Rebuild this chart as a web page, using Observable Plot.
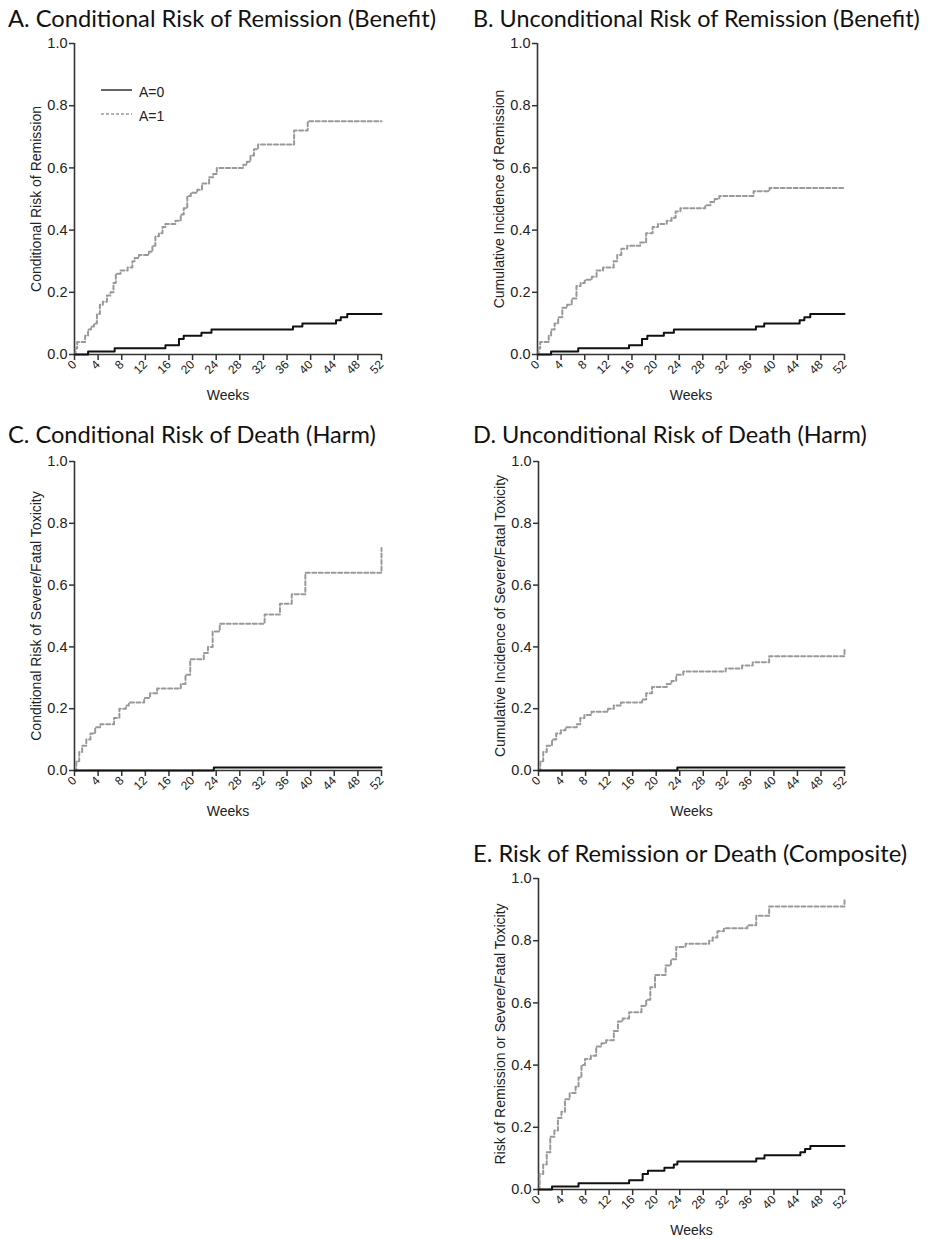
<!DOCTYPE html>
<html>
<head>
<meta charset="utf-8">
<script src="https://cdn.jsdelivr.net/npm/d3@7"></script>
<script src="https://cdn.jsdelivr.net/npm/@observablehq/plot@0.6"></script>
<style>
  html, body { margin: 0; padding: 0; background: #fff; }
  #root { position: relative; width: 936px; height: 1239px; overflow: hidden; background: #fff; }
  .panel { position: absolute; }
  #overlay { position: absolute; left: 0; top: 0; pointer-events: none; }
</style>
</head>
<body>
<div id="root"></div>
<script>
// ---------- data ----------
const weekTicks = [0, 4, 8, 12, 16, 20, 24, 28, 32, 36, 40, 44, 48, 52];
const riskTicks = [0, 0.2, 0.4, 0.6, 0.8, 1.0];
const armLabels = ["A=0", "A=1"];

const panelTitles = [
  "A. Conditional Risk of Remission (Benefit)",
  "B. Unconditional Risk of Remission (Benefit)",
  "C. Conditional Risk of Death (Harm)",
  "D. Unconditional Risk of Death (Harm)",
  "E. Risk of Remission or Death (Composite)"
];
const yLabels = [
  "Conditional Risk of Remission",
  "Cumulative Incidence of Remission",
  "Conditional Risk of Severe/Fatal Toxicity",
  "Cumulative Incidence of Severe/Fatal Toxicity",
  "Risk of Remission or Severe/Fatal Toxicity"
];
const xLabel = "Weeks";

// [week, risk] step points (value holds from that week on)
const condRemissionA0 = [[0,0],[2.3,0.01],[6.8,0.02],[15.4,0.03],[17.7,0.05],[18.5,0.06],[21.5,0.07],[23.2,0.08],[37.0,0.09],[38.6,0.10],[44.3,0.11],[45.1,0.12],[46.2,0.13],[52,0.13]];
const condRemissionA1 = [[0,0],[0.2,0.02],[0.45,0.04],[1.8,0.06],[2.3,0.08],[2.8,0.09],[3.3,0.10],[3.8,0.13],[4.3,0.16],[4.8,0.17],[5.5,0.19],[6.1,0.20],[6.6,0.23],[7.0,0.26],[7.8,0.27],[9.0,0.28],[9.8,0.30],[10.2,0.31],[10.9,0.32],[12.6,0.33],[13.2,0.35],[13.7,0.38],[14.3,0.39],[14.9,0.41],[15.4,0.42],[17.1,0.43],[18.0,0.45],[18.5,0.47],[19.1,0.51],[19.7,0.52],[20.8,0.53],[21.6,0.55],[22.8,0.57],[23.5,0.58],[24.1,0.60],[28.6,0.61],[29.2,0.62],[29.8,0.64],[30.4,0.66],[31.1,0.675],[37.2,0.72],[39.5,0.75],[52,0.75]];

const uncondRemissionA0 = [[0,0],[2.3,0.01],[6.9,0.02],[15.5,0.03],[17.7,0.05],[18.6,0.06],[21.4,0.07],[23.1,0.08],[37.0,0.09],[38.4,0.10],[44.4,0.11],[45.2,0.12],[46.2,0.13],[52,0.13]];
const uncondRemissionA1 = [[0,0],[0.2,0.02],[0.45,0.04],[1.9,0.06],[2.3,0.08],[2.9,0.10],[3.5,0.12],[4.2,0.15],[5.0,0.16],[5.8,0.18],[6.6,0.22],[7.3,0.23],[8.0,0.24],[9.2,0.25],[10.0,0.27],[11.1,0.28],[12.9,0.30],[13.5,0.32],[14.2,0.34],[15.2,0.35],[17.4,0.36],[18.4,0.39],[19.5,0.41],[20.4,0.42],[21.9,0.43],[22.7,0.44],[23.4,0.46],[24.2,0.47],[28.4,0.48],[29.3,0.49],[30.0,0.50],[30.8,0.51],[36.6,0.525],[39.3,0.535],[52,0.535]];

const condDeathA0 = [[0,0],[23.6,0.01],[52,0.01]];
const condDeathA1 = [[0,0],[0.3,0.03],[0.8,0.06],[1.3,0.08],[2.0,0.10],[2.7,0.12],[3.5,0.14],[4.4,0.15],[6.7,0.17],[7.6,0.20],[8.7,0.21],[9.2,0.22],[11.8,0.235],[12.8,0.25],[14.0,0.265],[18.0,0.28],[18.8,0.31],[19.6,0.36],[21.9,0.38],[22.6,0.40],[23.4,0.45],[24.6,0.475],[32.2,0.505],[34.8,0.54],[36.8,0.57],[39.1,0.64],[51.7,0.64],[52,0.72]];

const uncondDeathA0 = [[0,0],[23.6,0.01],[52,0.01]];
const uncondDeathA1 = [[0,0],[0.3,0.03],[0.8,0.06],[1.4,0.08],[2.3,0.10],[3.0,0.12],[3.8,0.13],[4.6,0.14],[6.5,0.15],[7.1,0.17],[7.8,0.18],[9.0,0.19],[11.8,0.20],[12.8,0.21],[14.0,0.22],[17.6,0.23],[18.3,0.25],[19.3,0.27],[21.8,0.28],[22.6,0.29],[23.4,0.31],[24.6,0.32],[31.8,0.33],[34.6,0.34],[36.4,0.35],[39.2,0.37],[51.6,0.37],[52,0.39]];

const compositeA0 = [[0,0],[2.3,0.01],[6.8,0.02],[15.4,0.03],[17.7,0.05],[18.6,0.06],[21.4,0.07],[23.0,0.08],[23.6,0.09],[37.0,0.10],[38.4,0.11],[44.5,0.12],[45.3,0.13],[46.2,0.14],[52,0.14]];
const compositeA1 = [[0,0],[0.2,0.05],[0.8,0.08],[1.4,0.12],[2.0,0.17],[2.7,0.19],[3.3,0.23],[3.9,0.25],[4.5,0.29],[5.3,0.31],[6.3,0.33],[6.8,0.36],[7.3,0.40],[7.9,0.42],[8.9,0.43],[9.8,0.46],[10.7,0.47],[11.5,0.48],[12.8,0.51],[13.5,0.54],[14.3,0.55],[15.4,0.57],[17.5,0.59],[18.3,0.61],[19.0,0.65],[19.8,0.69],[21.6,0.72],[22.5,0.74],[23.4,0.78],[25.0,0.79],[29.0,0.80],[29.6,0.81],[30.4,0.83],[31.5,0.84],[35.5,0.85],[37.0,0.88],[39.2,0.91],[51.6,0.91],[52,0.93]];

// ---------- styles ----------
const AXIS = "#333";
const SOLID = "#111";
const DASH = "#999";
const DASHARRAY = "4,2.5";
const FONT = "'Liberation Sans', Arial, sans-serif";
const TITLE_FONT = "Lato, 'Open Sans', sans-serif";

// ---------- layout ----------
const layout = [
  {left: 0,   top: 35,  width: 466, height: 375, x0: 74,  x1: 381, yTop: 43,  yBot: 354, tx: 8,   ty: 27,  tw: 428, a0: condRemissionA0,   a1: condRemissionA1},
  {left: 466, top: 35,  width: 470, height: 375, x0: 537, x1: 844, yTop: 43,  yBot: 354, tx: 473, ty: 27,  tw: 447, a0: uncondRemissionA0, a1: uncondRemissionA1},
  {left: 0,   top: 452, width: 466, height: 375, x0: 74,  x1: 381, yTop: 461, yBot: 770, tx: 8,   ty: 443, tw: 368, a0: condDeathA0,       a1: condDeathA1},
  {left: 466, top: 452, width: 470, height: 375, x0: 538, x1: 844, yTop: 461, yBot: 770, tx: 473, ty: 443, tw: 394, a0: uncondDeathA0,     a1: uncondDeathA1},
  {left: 466, top: 868, width: 470, height: 371, x0: 538, x1: 844, yTop: 878, yBot: 1189, tx: 473, ty: 862, tw: 434, a0: compositeA0,      a1: compositeA1}
];

const root = document.getElementById("root");

layout.forEach((p, i) => {
  const chart = Plot.plot({
    width: p.width,
    height: p.height,
    marginLeft: p.x0 - p.left,
    marginRight: p.left + p.width - p.x1,
    marginTop: p.yTop - p.top,
    marginBottom: p.top + p.height - p.yBot,
    style: {fontFamily: FONT, fontSize: "14px", color: "#222", background: "transparent", overflow: "visible"},
    x: {domain: [0, 52]},
    y: {domain: [0, 1]},
    marks: [
      Plot.axisY({ticks: riskTicks, tickFormat: d => d.toFixed(1), tickSize: 5, tickPadding: 2, fontSize: 14.5, stroke: AXIS, strokeWidth: 1.5, label: null}),
      Plot.axisX({ticks: weekTicks, tickFormat: d => String(d), tickRotate: -45, tickSize: 6, tickPadding: 2, fontSize: 12, stroke: AXIS, strokeWidth: 1.5, label: null}),
      Plot.ruleX([0], {stroke: AXIS, strokeWidth: 1.6}),
      Plot.ruleY([0], {stroke: AXIS, strokeWidth: 1.6}),
      Plot.text([yLabels[i]], {text: d => d, frameAnchor: "left", rotate: -90, dx: -43, lineAnchor: "top", textAnchor: "middle", fontSize: 14, fill: "#222"}),
      Plot.text([xLabel], {text: d => d, frameAnchor: "bottom", dy: 45, lineAnchor: "bottom", textAnchor: "middle", fontSize: 14, fill: "#222"}),
      Plot.line(p.a1, {x: d => d[0], y: d => d[1], curve: "step-after", stroke: DASH, strokeWidth: 2, strokeDasharray: DASHARRAY}),
      Plot.line(p.a0, {x: d => d[0], y: d => d[1], curve: "step-after", stroke: SOLID, strokeWidth: 2})
    ]
  });
  d3.select(chart).selectAll('g[aria-label="y-axis tick label"], g[aria-label="y-axis tick label"] text').attr("font-size", 14.5).attr("fill", "#222");
  d3.select(chart).selectAll('g[aria-label="x-axis tick label"], g[aria-label="x-axis tick label"] text').attr("font-size", 12).attr("fill", "#222");
  const wrap = document.createElement("div");
  wrap.className = "panel";
  wrap.style.left = p.left + "px";
  wrap.style.top = p.top + "px";
  wrap.appendChild(chart);
  root.appendChild(wrap);
});

// ---------- titles and legend (text overlay) ----------
const svgNS = "http://www.w3.org/2000/svg";
const overlay = document.createElementNS(svgNS, "svg");
overlay.setAttribute("id", "overlay");
overlay.setAttribute("width", 936);
overlay.setAttribute("height", 1239);
root.appendChild(overlay);

layout.forEach((p, i) => {
  const t = document.createElementNS(svgNS, "text");
  t.setAttribute("x", p.tx);
  t.setAttribute("y", p.ty);
  t.setAttribute("font-family", TITLE_FONT);
  t.setAttribute("font-size", 24);
  t.setAttribute("fill", "#111");
  t.textContent = panelTitles[i];
  overlay.appendChild(t);
  const len = t.getComputedTextLength();
  if (len > 0) t.setAttribute("font-size", (24 * p.tw / len).toFixed(2));
});

// legend in panel A
const legendItems = [
  {label: armLabels[0], y: 90, stroke: SOLID, dash: null, width: 1.3},
  {label: armLabels[1], y: 114, stroke: DASH, dash: "3,2", width: 1.3}
];
legendItems.forEach(it => {
  const ln = document.createElementNS(svgNS, "line");
  ln.setAttribute("x1", 101); ln.setAttribute("x2", 132);
  ln.setAttribute("y1", it.y); ln.setAttribute("y2", it.y);
  ln.setAttribute("stroke", it.stroke);
  ln.setAttribute("stroke-width", it.width);
  if (it.dash) ln.setAttribute("stroke-dasharray", it.dash);
  overlay.appendChild(ln);
  const tx = document.createElementNS(svgNS, "text");
  tx.setAttribute("x", 139);
  tx.setAttribute("y", it.y + 6.5);
  tx.setAttribute("font-family", FONT);
  tx.setAttribute("font-size", 14);
  tx.setAttribute("fill", "#222");
  tx.textContent = it.label;
  overlay.appendChild(tx);
});
</script>
</body>
</html>
